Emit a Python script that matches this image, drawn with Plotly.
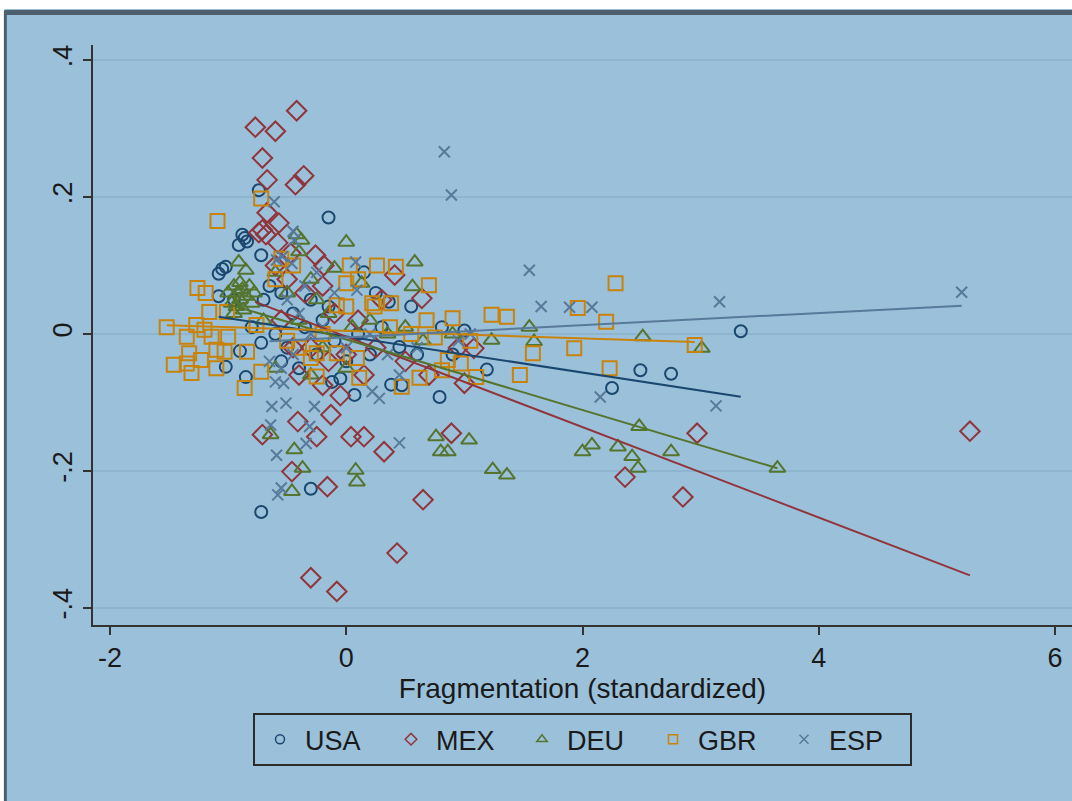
import plotly.graph_objects as go

# ---------------- data ----------------
countries = ["USA", "MEX", "DEU", "GBR", "ESP"]

usa_x = [-0.74, -0.15, -0.88, -0.91, -0.84, -0.86, -1.05, -1.08, -1.02, -0.72, -1.08, 0.15, 0.36,
         -1.02, -0.85, -0.72, -0.12, 0.07, 0.38, 0.79, 0.81, 0.45, 0.47, 1.19,
         2.25, 2.49, 2.75, 3.34, -0.72, -0.30,
         -0.55, -0.45, -0.60, -0.50, -0.35, -0.25, -0.20, -0.10, 0.00, 0.10, 0.20, -0.40, -0.65, -0.80,
         -0.90, -0.30, 0.30, 0.60, 0.90, 1.00, -0.15, 0.25, -0.55, -0.95, 0.55, -0.70, -0.05]
usa_y = [0.210, 0.170, 0.145, 0.130, 0.135, 0.140, 0.095, 0.088, 0.098, 0.115, 0.055, 0.090, 0.047,
         -0.048, -0.063, -0.013, -0.070, -0.089, -0.074, -0.092, 0.010, -0.019, -0.075, -0.052,
         -0.079, -0.053, -0.058, 0.004, -0.260, -0.226,
         0.060, 0.030, 0.000, -0.020, 0.010, -0.030, 0.020, -0.010, -0.040, 0.000, -0.030, -0.050, 0.070, 0.010,
         -0.025, 0.050, 0.010, -0.030, -0.030, 0.005, 0.040, 0.060, -0.040, 0.050, 0.040, 0.050, -0.065]

mex_x = [-0.77, -0.71, -0.60, -0.42, -0.36, -0.43, -0.67, -0.71, -0.74, -0.68, -0.67, -0.57, -0.58,
         -0.47, -0.26, -0.19, 0.41, 0.64, 1.08, 1.00, 0.89, 0.65, 2.36, 2.97, 2.85, 5.28,
         -0.71, -0.41, -0.25, 0.04, 0.15, 0.32, -0.46, -0.16, -0.13, 0.43, -0.30, -0.08,
         -0.50, -0.35, -0.20, -0.10, -0.30, -0.15, -0.40, -0.20, 0.00, 0.10, 0.25, 0.50, 0.70,
         -0.55, -0.05, 0.30, -0.60, 0.95, -0.45, 0.15]
mex_y = [0.302, 0.257, 0.296, 0.326, 0.231, 0.218, 0.225, 0.152, 0.148, 0.145, 0.177, 0.162, 0.133,
         0.118, 0.115, 0.100, 0.086, 0.052, -0.021, -0.072, -0.145, -0.242, -0.209, -0.145, -0.238, -0.142,
         -0.147, -0.128, -0.150, -0.150, -0.150, -0.172, -0.201, -0.223, -0.118, -0.320, -0.356, -0.376,
         0.080, 0.060, 0.070, 0.030, -0.020, -0.040, -0.060, -0.075, -0.030, 0.020, -0.020, -0.040, -0.060,
         0.020, -0.090, 0.050, 0.100, -0.020, -0.020, -0.060]

deu_x = [-0.91, -0.85, -0.38, -0.40, -0.42,
         -0.95, -0.92, -0.88, -0.90, -0.85, -0.97, -0.93, -0.87, -0.80, -0.95, -0.90, -0.82, -1.00, -0.78,
         0.00, 0.58, -0.10, 0.56, 0.13,
         1.55, 2.51, 3.01, 1.59, 1.23, 2.48, 0.76, 1.04, 0.80, 0.86, 1.24, 1.36, 2.00, 2.08, 2.30,
         2.42, 2.47, 2.75, 3.65,
         -0.64, -0.44, -0.37, -0.46, 0.08, 0.09,
         -0.60, -0.50, -0.30, -0.25, -0.15, 0.05, 0.20, 0.35, 0.50, 0.65, -0.20, 0.00, -0.40, 0.90,
         -0.70, -0.30, -0.60]
deu_y = [0.105, 0.093, 0.137, 0.120, 0.145,
         0.070, 0.060, 0.065, 0.050, 0.055, 0.045, 0.040, 0.035, 0.045, 0.030, 0.075, 0.070, 0.060, 0.060,
         0.134, 0.105, 0.096, 0.069, 0.074,
         0.010, -0.004, -0.021, -0.011, -0.009, -0.135, -0.150, -0.155, -0.172, -0.172, -0.198, -0.206,
         -0.172, -0.162, -0.165, -0.179, -0.196, -0.172, -0.196,
         -0.147, -0.169, -0.196, -0.230, -0.199, -0.216,
         0.090, 0.060, 0.080, 0.050, 0.030, 0.010, 0.020, 0.000, 0.010, -0.010, -0.020, -0.050, 0.020, 0.000,
         0.020, -0.060, -0.050]

gbr_x = [-1.09, -0.72, -1.26, -1.19, -1.52, -1.35, -1.27, -1.16, -1.20, -1.01, -1.33, -1.46, -1.35,
         -1.31, -1.23, -1.10, -1.03, -1.10, -0.84, -0.76, -0.72, -0.86, -1.14, -1.00,
         0.03, 0.26, 0.42, 0.00, 0.70, 0.22, 0.38, -0.08,
         -0.25, -0.08, 0.09, 0.11, -0.25, 0.00, 0.24, 0.68, 0.90, 0.37, 0.62, 0.47, 0.86, 0.97, 0.81, 1.10,
         1.23, 1.36, 1.96, 2.20, 1.58, 1.93, 2.23, 1.47, 2.95, 2.28,
         -0.55, -0.45, -0.30, -0.40, -0.60, -0.50, 0.10, 0.55, -0.20, 1.05, 0.75]
gbr_y = [0.165, 0.198, 0.067, 0.060, 0.010, -0.004, 0.013, 0.032, 0.006, 0.032, -0.028, -0.045, -0.043,
         -0.057, -0.038, -0.023, -0.026, -0.050, -0.026, 0.013, -0.055, -0.079, -0.004, -0.004,
         0.100, 0.100, 0.098, 0.074, 0.071, 0.045, 0.045, 0.042,
         -0.028, -0.028, -0.035, -0.064, -0.062, 0.040, 0.040, 0.020, 0.023, 0.010, -0.064, -0.077, -0.038,
         -0.043, -0.053, -0.063,
         0.028, 0.025, 0.038, 0.018, -0.028, -0.021, -0.050, -0.060, -0.016, 0.074,
         0.110, 0.100, -0.035, -0.020, 0.080, -0.010, 0.080, 0.000, 0.000, -0.010, -0.005]

esp_x = [0.83, 0.89, 1.55, 1.89, 2.08, 3.16, 5.21, 3.13, 2.15, 1.65,
         -0.61, -0.63, -0.51, -0.27, -0.64, -0.31, -0.34, -0.59, -0.55, -0.58, 0.45, 0.22, 0.28,
         -0.60, -0.53, 0.45,
         -0.54, -0.46, -0.59, -0.44, 0.08, 0.09, -0.45,
         -0.50, -0.40, -0.30, -0.45, -0.55, -0.35, -0.20, 0.00, 0.20, 0.60, -0.25, -0.10, 1.05, 0.35,
         0.95, -0.65]
esp_y = [0.266, 0.203, 0.093, 0.039, 0.039, 0.047, 0.061, -0.105, -0.092, 0.040,
         0.193, -0.106, -0.101, -0.106, -0.133, -0.135, -0.160, -0.177, -0.225, -0.235, -0.159, -0.084, -0.094,
         -0.070, -0.072, -0.060,
         0.113, 0.103, 0.108, 0.137, 0.105, 0.064, 0.150,
         0.050, 0.030, 0.000, -0.030, -0.050, 0.070, 0.010, -0.020, 0.000, -0.020, 0.090, 0.060, 0.000, -0.030,
         -0.010, -0.040]

# linear-fit coefficients (intercept, slope)
fit_intercept = [-0.0035, -0.004, -0.008, 0.0045, -0.005]
fit_slope = [-0.0264, -0.066, -0.0515, -0.0055, 0.0089]

x_ticks = [-2, 0, 2, 4, 6]
x_tick_labels = ["-2", "0", "2", "4", "6"]
y_ticks = [-0.4, -0.2, 0, 0.2, 0.4]
y_tick_labels = ["-.4", "-.2", "0", ".2", ".4"]

# ---------------- styling ----------------
colors = ["#1A476F", "#90353B", "#55752F", "#C8830C", "#58799A"]
symbols = ["circle-open", "diamond-open", "triangle-up-open", "square-open", "x-thin-open"]
sizes = [12, 15, 14, 14, 11]
BG = "#9BC1DA"
GRID = "#8DB5D0"
FONT = "Liberation Sans Narrow, Liberation Sans, Arial, sans-serif"

xs = [usa_x, mex_x, deu_x, gbr_x, esp_x]
ys = [usa_y, mex_y, deu_y, gbr_y, esp_y]

fig = go.Figure()

for i, c in enumerate(countries):
    fig.add_trace(go.Scatter(
        x=xs[i], y=ys[i], mode="markers", name=c, showlegend=False,
        marker=dict(symbol=symbols[i], size=sizes[i], color=colors[i],
                    line=dict(width=2, color=colors[i]))))

for i, c in enumerate(countries):
    x0, x1 = min(xs[i]), max(xs[i])
    fig.add_trace(go.Scatter(
        x=[x0, x1],
        y=[fit_intercept[i] + fit_slope[i] * x0, fit_intercept[i] + fit_slope[i] * x1],
        mode="lines", showlegend=False, hoverinfo="skip",
        line=dict(color=colors[i], width=2)))

# legend entries (small symbols like the reference key)
for i, c in enumerate(countries):
    fig.add_trace(go.Scatter(
        x=[None], y=[None], mode="markers", name=c,
        marker=dict(symbol=symbols[i], size=9, color=colors[i],
                    line=dict(width=1.5, color=colors[i]))))

# frame: white strips at top / left with a dark border line
fig.add_shape(type="rect", xref="paper", yref="paper", x0=-0.2, x1=1.1, y0=1.062, y1=1.2,
              fillcolor="white", line=dict(width=0), layer="above")
fig.add_shape(type="rect", xref="paper", yref="paper", x0=-0.2, x1=-0.0905, y0=-0.4, y1=1.2,
              fillcolor="white", line=dict(width=0), layer="above")
fig.add_shape(type="line", xref="paper", yref="paper", x0=-0.0895, x1=1.1, y0=1.056, y1=1.056,
              line=dict(color="#4D5F6E", width=5), layer="above")
fig.add_shape(type="line", xref="paper", yref="paper", x0=-0.0895, x1=-0.0895, y0=-0.4, y1=1.06,
              line=dict(color="#4D5F6E", width=3), layer="above")

fig.update_layout(
    width=1072, height=801,
    margin=dict(l=93, r=0, t=45, b=176),
    paper_bgcolor=BG, plot_bgcolor=BG,
    font=dict(family=FONT, color="#1a1a1a", size=26),
    showlegend=True,
    legend=dict(orientation="h", x=0.5, xanchor="center", y=-0.152, yanchor="top",
                bgcolor=BG, bordercolor="#2b2b2b", borderwidth=2,
                font=dict(family=FONT, size=27, color="#1a1a1a"),
                itemwidth=40, entrywidth=76, entrywidthmode="pixels"),
    xaxis=dict(range=[-2.144, 6.144], tickvals=x_ticks, ticktext=x_tick_labels,
               showgrid=False, zeroline=False,
               showline=True, linecolor="#333333", linewidth=1.5,
               ticks="outside", ticklen=8, tickwidth=1.5, tickcolor="#333333",
               tickfont=dict(size=27),
               title=dict(text="Fragmentation (standardized)", font=dict(size=28), standoff=6)),
    yaxis=dict(range=[-0.425, 0.422], tickvals=y_ticks, ticktext=y_tick_labels,
               showgrid=True, gridcolor=GRID, gridwidth=1.5, zeroline=False,
               showline=True, linecolor="#333333", linewidth=1.5,
               ticks="outside", ticklen=8, tickwidth=1.5, tickcolor="#333333",
               tickangle=-90, tickfont=dict(size=27)),
)

fig.write_html("out.html", post_script="document.body.style.margin='0px';",
               config={"displayModeBar": False})
